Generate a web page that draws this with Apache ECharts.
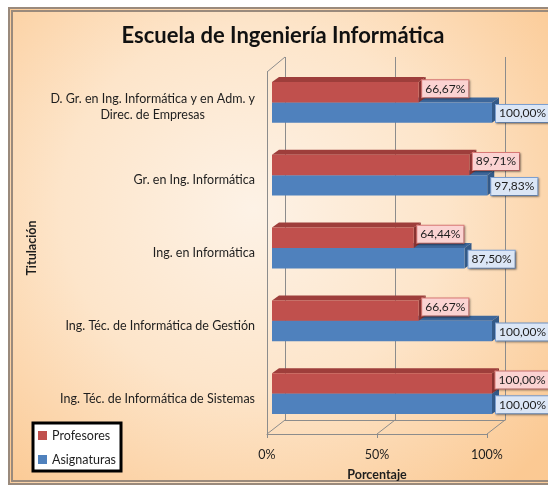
<!DOCTYPE html>
<html>
<head>
<meta charset="utf-8">
<script src="https://cdn.jsdelivr.net/npm/echarts@6/dist/echarts.min.js"></script>
<style>
  html, body { margin: 0; padding: 0; background: #fff; }
  #frame {
    position: absolute; left: 8px; top: 7px; width: 540px; height: 478px;
    box-sizing: border-box; border: 5px double #9a8a7c; border-right: none;
    background: radial-gradient(ellipse 72% 78% at 45% 42%, #fdf2e6 0%, #fde5ca 50%, #fbc993 100%);
  }
  #chart { position: absolute; left: 0; top: 0; width: 548px; height: 490px; }
</style>
</head>
<body>
<div id="frame"></div>
<div id="chart"></div>
<script>
const categories = [
  'D. Gr. en Ing. Informática y en Adm. y\nDirec. de Empresas',
  'Gr. en Ing. Informática',
  'Ing. en Informática',
  'Ing. Téc. de Informática de Gestión',
  'Ing. Téc. de Informática de Sistemas'
];
const profesores = [0.6667, 0.8971, 0.6444, 0.6667, 1.0];
const asignaturas = [1.0, 0.9783, 0.875, 1.0, 1.0];
const tickLabels = ['0%', '50%', '100%'];

const FONT = 'Lato';
const TXT = '#1e1e1e';
const GRID_LINE = '#8c8c8c';
const DX = 7, DY = -5; // depth of the 3d bars

const fmtPct = v => (v * 100).toFixed(2).replace('.', ',') + '%';

// side -1 = upper bar of the pair, +1 = lower bar
function bar3d(side, c, lab) {
  return function (params, api) {
    const cat = api.value(0);
    const val = api.value(1);
    const p0 = api.coord([0, cat]);
    const p1 = api.coord([val, cat]);
    const h = api.size([0, 1])[1] * 0.28;
    const x0 = p0[0], x1 = p1[0];
    const yTop = side < 0 ? p0[1] - h : p0[1];
    const yBot = yTop + h;
    return {
      type: 'group',
      children: [
        { type: 'polygon', shape: { points: [[x0, yTop], [x0 + DX, yTop + DY], [x1 + DX, yTop + DY], [x1, yTop]] },
          style: { fill: c.top } },
        { type: 'polygon', shape: { points: [[x1, yTop], [x1 + DX, yTop + DY], [x1 + DX, yBot + DY], [x1, yBot]] },
          style: { fill: c.side } },
        { type: 'rect', shape: { x: x0, y: yTop, width: x1 - x0, height: h },
          style: { fill: c.front } },
        { type: 'text', x: x1 + lab.dx, y: (yTop + yBot) / 2 + lab.dy,
          style: {
            text: fmtPct(val), fontSize: 12, fontFamily: FONT, fill: TXT,
            align: 'left', verticalAlign: 'middle',
            backgroundColor: lab.bg, borderColor: lab.border, borderWidth: 1,
            padding: [3, 3, 2, 3],
            shadowColor: 'rgba(0,0,0,0.35)', shadowBlur: 2, shadowOffsetX: 1, shadowOffsetY: 1
          } }
      ]
    };
  };
}

const chart = echarts.init(document.getElementById('chart'));
chart.setOption({
  animation: false,
  title: {
    text: 'Escuela de Ingeniería Informática',
    left: 278, top: 20, textAlign: 'center',
    textStyle: { fontFamily: FONT, fontSize: 22, fontWeight: 'bold', color: '#111' }
  },
  legend: {
    orient: 'vertical', left: 33, top: 423,
    data: [{ name: 'Profesores', icon: 'rect' }, { name: 'Asignaturas', icon: 'rect' }],
    backgroundColor: '#fff', borderColor: '#000', borderWidth: 3,
    padding: [6, 5, 5, 5], itemWidth: 9, itemHeight: 9, itemGap: 11,
    textStyle: { fontFamily: FONT, fontSize: 12.5, color: TXT }
  },
  grid: [
    { left: 272, top: 66, width: 220, height: 364 },
    { left: 285, top: 57, width: 220, height: 363 },
    { left: 267, top: 72, width: 220, height: 362 }
  ],
  xAxis: [
    { gridIndex: 0, type: 'value', min: 0, max: 1, show: false },
    { gridIndex: 1, type: 'value', min: 0, max: 1, interval: 0.5,
      axisLine: { show: true, lineStyle: { color: GRID_LINE } },
      axisTick: { show: false }, axisLabel: { show: false },
      splitLine: { show: true, lineStyle: { color: GRID_LINE, width: 1 } } },
    { gridIndex: 2, type: 'value', min: 0, max: 1, interval: 0.5,
      axisLine: { show: true, lineStyle: { color: GRID_LINE } },
      axisTick: { show: true, length: 4, lineStyle: { color: GRID_LINE } },
      splitLine: { show: false },
      axisLabel: {
        margin: 14, fontFamily: FONT, fontSize: 12.5, color: TXT,
        formatter: v => tickLabels[Math.round(v * 2)]
      },
      name: 'Porcentaje', nameLocation: 'middle', nameGap: 34,
      nameTextStyle: { fontFamily: FONT, fontSize: 12.5, fontWeight: 'bold', color: TXT } }
  ],
  yAxis: [
    { gridIndex: 0, type: 'category', inverse: true, data: categories,
      axisLine: { show: false }, axisTick: { show: false },
      axisLabel: {
        margin: 17, align: 'right', padding: [10, 0, 0, 0],
        formatter: v => v.split('\n').map(s => '{c|' + s + '}').join('\n'),
        rich: { c: { align: 'center', fontFamily: FONT, fontSize: 12.5, color: TXT, lineHeight: 16 } }
      },
      name: 'Titulación', nameLocation: 'middle', nameGap: 234, nameRotate: 90,
      nameTextStyle: { fontFamily: FONT, fontSize: 12.5, fontWeight: 'bold', color: TXT } },
    { gridIndex: 1, type: 'value', show: false },
    { gridIndex: 2, type: 'value', axisLine: { show: true, lineStyle: { color: GRID_LINE } },
      axisTick: { show: false }, axisLabel: { show: false }, splitLine: { show: false } }
  ],
  graphic: [
    { type: 'line', shape: { x1: 267, y1: 72, x2: 285, y2: 57 }, style: { stroke: GRID_LINE } },
    { type: 'line', shape: { x1: 285, y1: 420, x2: 267, y2: 434 }, style: { stroke: GRID_LINE } },
    { type: 'line', shape: { x1: 395, y1: 420, x2: 377, y2: 434 }, style: { stroke: GRID_LINE } },
    { type: 'line', shape: { x1: 505, y1: 420, x2: 487, y2: 434 }, style: { stroke: GRID_LINE } }
  ],
  series: [
    {
      name: 'Asignaturas', type: 'custom', xAxisIndex: 0, yAxisIndex: 0,
      itemStyle: { color: '#4f81bd' },
      encode: { x: 1, y: 0 },
      renderItem: bar3d(1, { front: '#4f81bd', top: '#3d679b', side: '#345a88' },
        { dx: 4, dy: 1, bg: '#dbe6f6', border: '#7fa3d6' }),
      data: asignaturas.map((v, i) => [i, v])
    },
    {
      name: 'Profesores', type: 'custom', xAxisIndex: 0, yAxisIndex: 0,
      itemStyle: { color: '#c0504d' },
      encode: { x: 1, y: 0 },
      renderItem: bar3d(-1, { front: '#c0504d', top: '#9e3e3b', side: '#883331' },
        { dx: 3.5, dy: -3.5, bg: '#fbd3d2', border: '#de7b78' }),
      data: profesores.map((v, i) => [i, v])
    }
  ]
});
</script>
</body>
</html>
